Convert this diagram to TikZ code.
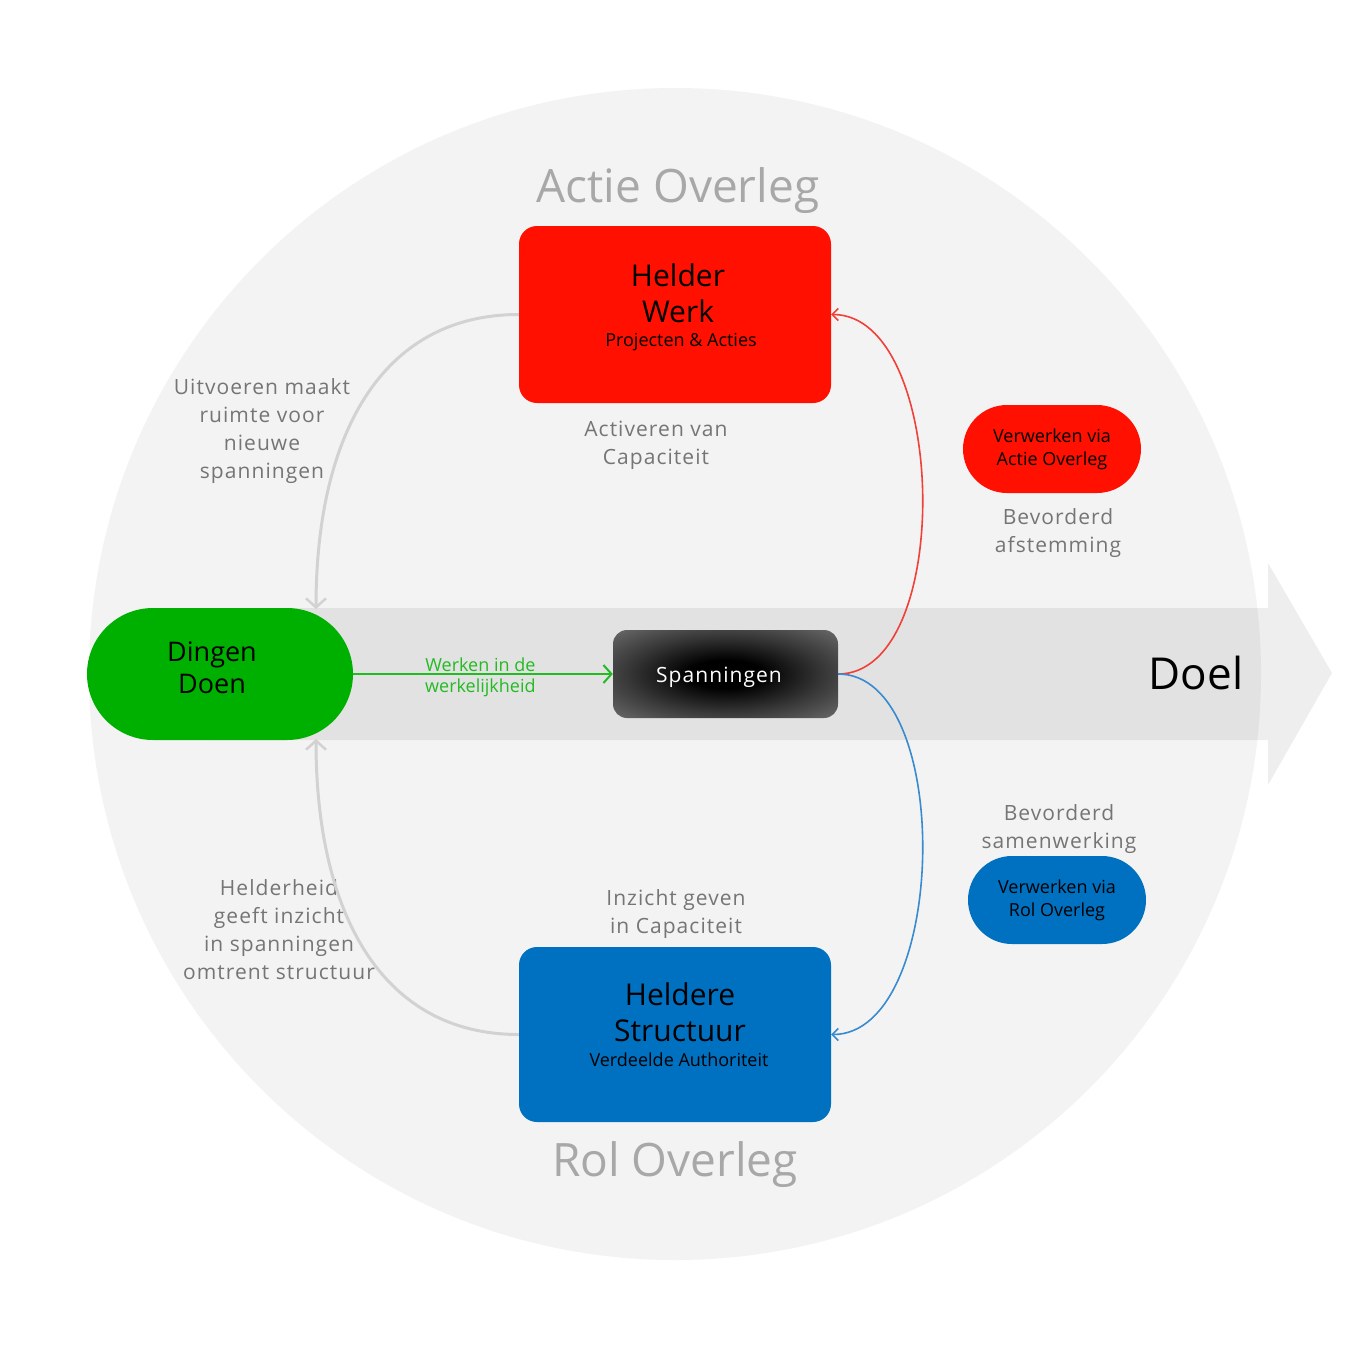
\documentclass[tikz,border=0pt]{standalone}
\usepackage{fontspec}
\setmainfont{Open Sans}
\newfontfamily\spacedfont[LetterSpace=5]{Open Sans}
\usetikzlibrary{arrows.meta,shapes.misc}
\definecolor{bgcircle}{HTML}{F3F3F3}
\definecolor{redbox}{HTML}{FF1000}
\definecolor{greenbox}{HTML}{00B000}
\definecolor{bluebox}{HTML}{0070C0}
\definecolor{greytxt}{HTML}{757575}
\definecolor{titletxt}{HTML}{A8A8A8}
\definecolor{arcgrey}{HTML}{D2D2D2}
\definecolor{redline}{HTML}{F04038}
\definecolor{blueline}{HTML}{3A8AD0}
\definecolor{greenline}{HTML}{22BB22}
\pgfdeclareradialshading{spshade}{\pgfpoint{0bp}{0bp}}{%
  color(0bp)=(black); color(8bp)=(black); color(22bp)=(black!78); color(36bp)=(black!58); color(50bp)=(black!52); color(75bp)=(black!52)}
\tikzset{
  bigbox/.style={rounded corners=18pt, minimum width=312pt, minimum height=177pt, inner sep=0pt, align=center, text=black},
  pill/.style={rounded rectangle, minimum width=178pt, minimum height=88pt, inner sep=0pt, align=center, text=black, font=\fontsize{18}{23}\selectfont},
  greylabel/.style={align=center, text=greytxt, font=\spacedfont\fontsize{21}{28}\selectfont, inner sep=0pt},
  titlelabel/.style={text=titletxt, font=\fontsize{46}{50}\selectfont, inner sep=0pt},
  arcline/.style={draw=arcgrey, line width=3pt, -{Straight Barb[length=9pt,width=20pt,line width=2.5pt]}},
}
\begin{document}
\begin{tikzpicture}[x=1pt,y=-1pt]
\useasboundingbox (0,0) rectangle (1350,1350);
\fill[white] (0,0) rectangle (1350,1350);
% background circle
\fill[bgcircle] (675,674) circle[radius=586];
% band with arrow
\fill[black, opacity=0.065] (212,608) -- (1268,608) -- (1268,563) -- (1332,673) -- (1268,785) -- (1268,740) -- (212,740) -- cycle;
\node[font=\fontsize{44}{50}\selectfont, inner sep=0pt] (doel) at (1196,673) {Doel};

% titles
\node[titlelabel] (actietitle) at (678,191) {Actie Overleg};
\node[titlelabel] (roltitle) at (675,1165) {Rol Overleg};

% main boxes
\node[bigbox, fill=redbox] (hw) at (675,314.5) {};
\node[align=center, inner sep=0pt, font=\fontsize{30}{36}\selectfont] (hwtxt) at (678,293) {Helder\\Werk};
\node[inner sep=0pt, font=\fontsize{18}{22}\selectfont] (hwsub) at (681,342) {Projecten \& Acties};

\node[bigbox, fill=bluebox, minimum height=175pt] (hs) at (675,1034.5) {};
\node[align=center, inner sep=0pt, font=\fontsize{30}{36}\selectfont] (hstxt) at (680,1012) {Heldere\\Structuur};
\node[inner sep=0pt, font=\fontsize{18}{22}\selectfont] (hssub) at (679,1060) {Verdeelde Authoriteit};

% green node
\node[rounded rectangle, fill=greenbox, minimum width=266pt, minimum height=132pt, inner sep=0pt] (dd) at (220,674) {};
\node[align=center, inner sep=0pt, font=\fontsize{27}{32}\selectfont] (ddtxt) at (212,668) {Dingen\\Doen};

% spanningen
\node[rounded corners=14pt, minimum width=225pt, minimum height=88pt, inner sep=0pt, shading=spshade] (sp) at (725.5,674) {};
\node[inner sep=0pt, text=white, font=\spacedfont\fontsize{21}{26}\selectfont] (sptxt) at (719,677) {Spanningen};

% pills
\node[pill, fill=redbox] (pa) at (1052,449) {Verwerken via\\Actie Overleg};
\node[pill, fill=bluebox] (pr) at (1057,900) {Verwerken via\\Rol Overleg};

% grey labels
\node[greylabel] (l1) at (262,431) {Uitvoeren maakt\\ruimte voor\\nieuwe\\spanningen};
\node[greylabel] (l2) at (656,445) {Activeren van\\Capaciteit};
\node[greylabel] (l3) at (1058,533) {Bevorderd\\afstemming};
\node[greylabel] (l4) at (1059,829) {Bevorderd\\samenwerking};
\node[greylabel] (l5) at (676,914) {Inzicht geven\\in Capaciteit};
\node[greylabel] (l6) at (279,930) {Helderheid\\geeft inzicht\\in spanningen\\omtrent structuur};

% connectors
\coordinate (ddtop) at ([shift={(96,-65)}]dd.center);
\coordinate (ddbot) at ([shift={(96,65)}]dd.center);
\draw[arcline] (hw.west) .. controls +(-140,0) and +(0,-170) .. (ddtop);
\draw[arcline] (hs.west) .. controls +(-140,0) and +(0,170) .. (ddbot);

\draw[greenline, line width=2pt, -{Straight Barb[length=8pt,width=18pt,line width=2pt]}] (dd.east) -- (sp.west)
  node[pos=0.49, above=0pt, inner sep=1pt, text=greenline, font=\fontsize{18}{22}\selectfont] (g1) {Werken in de}
  node[pos=0.49, below=3pt, inner sep=1pt, text=greenline, font=\fontsize{18}{22}\selectfont] (g2) {werkelijkheid};

\draw[redline, line width=1.6pt, -{Straight Barb[length=6pt,width=12pt,line width=1.6pt]}] (sp.east) .. controls +(117,0) and +(117,0) .. (hw.east);
\draw[blueline, line width=1.6pt, -{Straight Barb[length=6pt,width=12pt,line width=1.6pt]}] (sp.east) .. controls +(117,0) and +(117,0) .. (hs.east);
\end{tikzpicture}
\end{document}
